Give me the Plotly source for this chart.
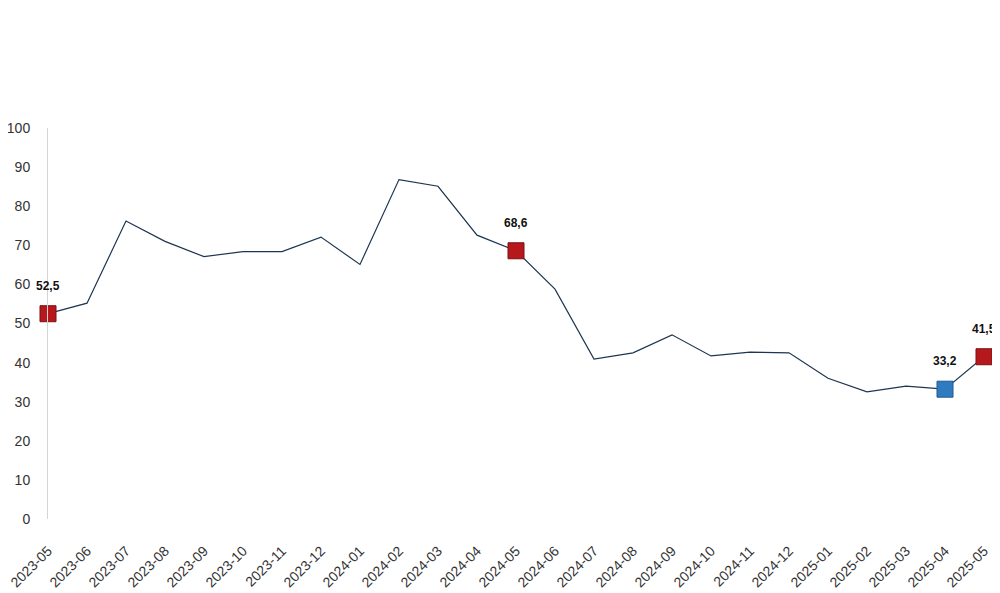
import plotly.graph_objects as go

months = ["2023-05", "2023-06", "2023-07", "2023-08", "2023-09", "2023-10", "2023-11", "2023-12",
          "2024-01", "2024-02", "2024-03", "2024-04", "2024-05", "2024-06", "2024-07", "2024-08",
          "2024-09", "2024-10", "2024-11", "2024-12", "2025-01", "2025-02", "2025-03", "2025-04", "2025-05"]
values = [52.5, 55.2, 76.2, 71.0, 67.1, 68.4, 68.4, 72.1, 65.1, 86.8, 85.1, 72.6, 68.6,
          58.8, 40.9, 42.5, 47.1, 41.7, 42.7, 42.5, 36.0, 32.5, 34.0, 33.2, 41.5]

highlight_months = ["2023-05", "2024-05", "2025-04", "2025-05"]
highlight_colors = ["#b5191c", "#b5191c", "#2f7bbf", "#b5191c"]
highlight_borders = ["#7a1012", "#7a1012", "#1f5a8f", "#7a1012"]

yticks = [0, 10, 20, 30, 40, 50, 60, 70, 80, 90, 100]

hl_values = [values[months.index(m)] for m in highlight_months]

fig = go.Figure()
fig.add_trace(go.Scatter(
    x=months, y=values, mode="lines",
    line=dict(color="#1d3550", width=1.2),
    cliponaxis=False, showlegend=False, hoverinfo="x+y",
))
fig.add_trace(go.Scatter(
    x=highlight_months, y=hl_values, mode="markers",
    marker=dict(symbol="square", size=16, color=highlight_colors,
                line=dict(color=highlight_borders, width=1)),
    cliponaxis=False, showlegend=False,
))

for m, v in zip(highlight_months, hl_values):
    fig.add_annotation(
        x=m, y=v, text="<b>" + f"{v:.1f}".replace(".", ",") + "</b>",
        showarrow=False, yshift=28,
        font=dict(family="Liberation Sans, Arial, sans-serif", size=12, color="#111111"),
    )

# the page has an 8px body margin, so the figure is offset by 8px
fig.update_layout(
    width=992, height=585,
    margin=dict(l=40, r=16, t=120, b=74),
    paper_bgcolor="white", plot_bgcolor="white",
    font=dict(family="Liberation Sans, Arial, sans-serif", size=13, color="#333333"),
    xaxis=dict(
        type="category", range=[0, len(months) - 1], automargin=False,
        tickangle=-45, tickfont=dict(size=14, color="#333333"),
        showgrid=False, showline=False, zeroline=False, ticks="",
        ticklabelstandoff=20,
    ),
    yaxis=dict(
        range=[0, 100], tickvals=yticks, automargin=False,
        showgrid=False, zeroline=False,
        showline=True, linecolor="#d4d4d4", linewidth=1,
        ticks="", ticklabelstandoff=14,
        tickfont=dict(size=14, color="#333333"),
    ),
)

fig.write_html("out.html")
